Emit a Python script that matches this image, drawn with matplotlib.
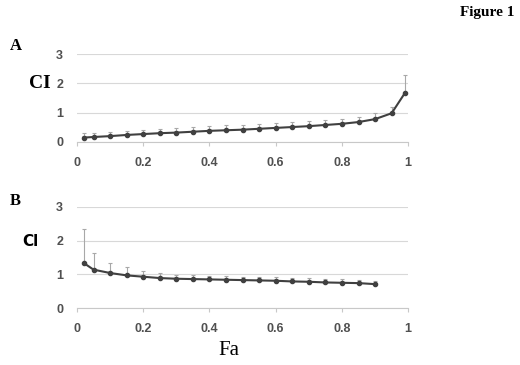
import matplotlib.pyplot as plt
import numpy as np

# panel A
fa_a = [0.02, 0.05, 0.1, 0.15, 0.2, 0.25, 0.3, 0.35, 0.4, 0.45, 0.5, 0.55,
        0.6, 0.65, 0.7, 0.75, 0.8, 0.85, 0.9, 0.95, 0.99]
ci_a = [0.15, 0.17, 0.2, 0.24, 0.27, 0.3, 0.32, 0.35, 0.38, 0.4, 0.42, 0.45,
        0.48, 0.51, 0.54, 0.58, 0.62, 0.68, 0.78, 0.98, 1.67]
err_a = [0.15, 0.15, 0.15, 0.15, 0.15, 0.15, 0.16, 0.16, 0.17, 0.17, 0.17, 0.18,
         0.18, 0.18, 0.18, 0.18, 0.18, 0.18, 0.2, 0.22, 0.6]

# panel B
fa_b = [0.02, 0.05, 0.1, 0.15, 0.2, 0.25, 0.3, 0.35, 0.4, 0.45, 0.5, 0.55,
        0.6, 0.65, 0.7, 0.75, 0.8, 0.85, 0.9]
ci_b = [1.34, 1.14, 1.04, 0.97, 0.93, 0.89, 0.87, 0.86, 0.85, 0.84, 0.83, 0.82,
        0.81, 0.79, 0.78, 0.76, 0.75, 0.74, 0.71]
err_b = [1.0, 0.5, 0.3, 0.25, 0.18, 0.14, 0.12, 0.11, 0.1, 0.1, 0.1, 0.1,
         0.1, 0.1, 0.1, 0.1, 0.1, 0.1, 0.1]

xticks = [0, 0.2, 0.4, 0.6, 0.8, 1]
yticks = [0, 1, 2, 3]

fig = plt.figure(figsize=(5.2, 3.65), dpi=100)
fig.patch.set_facecolor('white')

ax_a = fig.add_axes([0.148, 0.611, 0.637, 0.241])
ax_b = fig.add_axes([0.148, 0.156, 0.637, 0.277])

for ax, x, y, e in [(ax_a, fa_a, ci_a, err_a), (ax_b, fa_b, ci_b, err_b)]:
    ax.errorbar(x, y, yerr=[np.zeros(len(e)), e], fmt='none', ecolor='#a8a8a8',
                elinewidth=0.8, capsize=1.5, capthick=0.8, zorder=2)
    ax.plot(x, y, color='#404040', lw=1.5, marker='o', ms=3, zorder=3)
    ax.set_xlim(0, 1)
    ax.set_ylim(0, 3)
    ax.set_yticks(yticks)
    ax.set_xticks(xticks)
    ax.grid(axis='y', color='#d8d8d8', lw=0.8)
    ax.set_axisbelow(True)
    for s in ['top', 'right', 'left']:
        ax.spines[s].set_visible(False)
    ax.spines['bottom'].set_color('#c8c8c8')
    ax.tick_params(axis='y', length=0, pad=10)
    ax.tick_params(axis='x', length=3, color='#c8c8c8', pad=8)
    ax.set_xticklabels(['0', '0.2', '0.4', '0.6', '0.8', '1'], fontweight='bold',
                       family='Liberation Sans', fontsize=9, color='#505050')
    ax.set_yticklabels(['0', '1', '2', '3'], fontweight='bold',
                       family='Liberation Sans', fontsize=9, color='#505050')

fig.text(0.99, 0.965, 'Figure 1', ha='right', va='center', family='Liberation Serif',
         fontweight='bold', fontsize=11)
fig.text(0.018, 0.875, 'A', ha='left', va='center', family='Liberation Serif',
         fontweight='bold', fontsize=12)
fig.text(0.056, 0.772, 'CI', ha='left', va='center', family='Liberation Serif',
         fontweight='bold', fontsize=14)
fig.text(0.018, 0.45, 'B', ha='left', va='center', family='Liberation Serif',
         fontweight='bold', fontsize=12)
fig.text(0.043, 0.337, 'Cl', ha='left', va='center', family='DejaVu Sans',
         fontweight='bold', fontsize=11)
fig.text(0.44, 0.04, 'Fa', ha='center', va='center', family='Liberation Serif',
         fontsize=15)

fig.savefig('out.png', dpi=100)
